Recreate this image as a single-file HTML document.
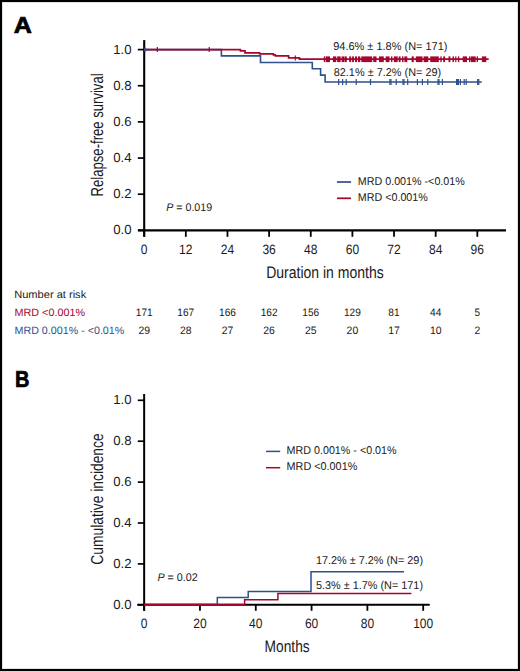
<!DOCTYPE html>
<html><head><meta charset="utf-8"><style>
html,body{margin:0;padding:0;background:#fff;}
body{width:520px;height:671px;overflow:hidden;}
.frame{position:absolute;left:0;top:0;width:516px;height:667px;border:2px solid #000;background:#fff;box-shadow:inset 0 0 0 1px rgba(0,0,0,0.12);}
svg{position:absolute;left:0;top:0;font-family:"Liberation Sans", sans-serif;text-rendering:geometricPrecision;}
</style></head><body>
<div class="frame"></div>
<svg width="520" height="671" viewBox="0 0 520 671">
<text transform="translate(14.9,33.4) scale(1.09,1)" x="-1" y="0" font-size="23.0" font-weight="bold" fill="#000" stroke="#000" stroke-width="0.7">A</text>
<text transform="translate(16.5,386.8) scale(0.87,1)" x="-1.6" y="0" font-size="23.0" font-weight="bold" fill="#000" stroke="#000" stroke-width="0.7">B</text>
<line x1="144.2" y1="40.1" x2="144.2" y2="236.7" stroke="#000" stroke-width="2.1"/>
<line x1="138" y1="230.4" x2="506" y2="230.4" stroke="#000" stroke-width="2.3"/>
<line x1="137.8" y1="230.35" x2="144" y2="230.35" stroke="#000" stroke-width="1.7"/>
<text x="131.5" y="234.3" font-size="13.2" text-anchor="end" fill="#1a1a1a" >0.0</text>
<line x1="137.8" y1="194.2" x2="144" y2="194.2" stroke="#000" stroke-width="1.7"/>
<text x="131.5" y="198.15" font-size="13.2" text-anchor="end" fill="#1a1a1a" >0.2</text>
<line x1="137.8" y1="158.05" x2="144" y2="158.05" stroke="#000" stroke-width="1.7"/>
<text x="131.5" y="162.0" font-size="13.2" text-anchor="end" fill="#1a1a1a" >0.4</text>
<line x1="137.8" y1="121.89999999999998" x2="144" y2="121.89999999999998" stroke="#000" stroke-width="1.7"/>
<text x="131.5" y="125.85" font-size="13.2" text-anchor="end" fill="#1a1a1a" >0.6</text>
<line x1="137.8" y1="85.75" x2="144" y2="85.75" stroke="#000" stroke-width="1.7"/>
<text x="131.5" y="89.7" font-size="13.2" text-anchor="end" fill="#1a1a1a" >0.8</text>
<line x1="137.8" y1="49.599999999999994" x2="144" y2="49.599999999999994" stroke="#000" stroke-width="1.7"/>
<text x="131.5" y="53.55" font-size="13.2" text-anchor="end" fill="#1a1a1a" >1.0</text>
<line x1="144.2" y1="230.4" x2="144.2" y2="236.8" stroke="#000" stroke-width="1.8"/>
<text x="144.2" y="253.9" font-size="13.5" text-anchor="middle" fill="#1a1a1a" textLength="6.7" lengthAdjust="spacingAndGlyphs" >0</text>
<line x1="185.83999999999997" y1="230.4" x2="185.83999999999997" y2="236.8" stroke="#000" stroke-width="1.8"/>
<text x="185.8" y="253.9" font-size="13.5" text-anchor="middle" fill="#1a1a1a" textLength="13.4" lengthAdjust="spacingAndGlyphs" >12</text>
<line x1="227.48" y1="230.4" x2="227.48" y2="236.8" stroke="#000" stroke-width="1.8"/>
<text x="227.5" y="253.9" font-size="13.5" text-anchor="middle" fill="#1a1a1a" textLength="13.4" lengthAdjust="spacingAndGlyphs" >24</text>
<line x1="269.12" y1="230.4" x2="269.12" y2="236.8" stroke="#000" stroke-width="1.8"/>
<text x="269.1" y="253.9" font-size="13.5" text-anchor="middle" fill="#1a1a1a" textLength="13.4" lengthAdjust="spacingAndGlyphs" >36</text>
<line x1="310.76" y1="230.4" x2="310.76" y2="236.8" stroke="#000" stroke-width="1.8"/>
<text x="310.8" y="253.9" font-size="13.5" text-anchor="middle" fill="#1a1a1a" textLength="13.4" lengthAdjust="spacingAndGlyphs" >48</text>
<line x1="352.4" y1="230.4" x2="352.4" y2="236.8" stroke="#000" stroke-width="1.8"/>
<text x="352.4" y="253.9" font-size="13.5" text-anchor="middle" fill="#1a1a1a" textLength="13.4" lengthAdjust="spacingAndGlyphs" >60</text>
<line x1="394.03999999999996" y1="230.4" x2="394.03999999999996" y2="236.8" stroke="#000" stroke-width="1.8"/>
<text x="394.0" y="253.9" font-size="13.5" text-anchor="middle" fill="#1a1a1a" textLength="13.4" lengthAdjust="spacingAndGlyphs" >72</text>
<line x1="435.68" y1="230.4" x2="435.68" y2="236.8" stroke="#000" stroke-width="1.8"/>
<text x="435.7" y="253.9" font-size="13.5" text-anchor="middle" fill="#1a1a1a" textLength="13.4" lengthAdjust="spacingAndGlyphs" >84</text>
<line x1="477.32" y1="230.4" x2="477.32" y2="236.8" stroke="#000" stroke-width="1.8"/>
<text x="477.3" y="253.9" font-size="13.5" text-anchor="middle" fill="#1a1a1a" textLength="13.4" lengthAdjust="spacingAndGlyphs" >96</text>
<polyline points="144,49.6 221.4,49.6 221.4,55.9 260.5,55.9 260.5,62.5 312.3,62.5 312.3,68.8 320.6,68.8 320.6,75.1 325.1,75.1 325.1,82 481.8,82" fill="none" stroke="#2f5089" stroke-width="1.6" stroke-linejoin="miter" stroke-linecap="butt"/>
<polyline points="144,49.6 240.4,49.6 240.4,50.8 245,50.8 245,52.8 259.6,52.8 259.6,53.8 273.4,53.8 273.4,54.8 275.3,54.8 275.3,55.8 288.6,55.8 288.6,57.9 299.4,57.9 299.4,59.2 488.7,59.2" fill="none" stroke="#a6052e" stroke-width="1.7" stroke-linejoin="miter" stroke-linecap="butt"/>
<line x1="338.7" y1="79.0" x2="338.7" y2="85.0" stroke="#2f5089" stroke-width="1.2"/>
<line x1="342.6" y1="79.0" x2="342.6" y2="85.0" stroke="#2f5089" stroke-width="1.2"/>
<line x1="346.2" y1="79.0" x2="346.2" y2="85.0" stroke="#2f5089" stroke-width="1.2"/>
<line x1="356.2" y1="79.0" x2="356.2" y2="85.0" stroke="#2f5089" stroke-width="1.2"/>
<line x1="370.5" y1="79.0" x2="370.5" y2="85.0" stroke="#2f5089" stroke-width="1.2"/>
<line x1="389.9" y1="79.0" x2="389.9" y2="85.0" stroke="#2f5089" stroke-width="1.2"/>
<line x1="391.0" y1="79.0" x2="391.0" y2="85.0" stroke="#2f5089" stroke-width="1.2"/>
<line x1="396.2" y1="79.0" x2="396.2" y2="85.0" stroke="#2f5089" stroke-width="1.2"/>
<line x1="403.0" y1="79.0" x2="403.0" y2="85.0" stroke="#2f5089" stroke-width="1.2"/>
<line x1="404.0" y1="79.0" x2="404.0" y2="85.0" stroke="#2f5089" stroke-width="1.2"/>
<line x1="407.7" y1="79.0" x2="407.7" y2="85.0" stroke="#2f5089" stroke-width="1.2"/>
<line x1="417.4" y1="79.0" x2="417.4" y2="85.0" stroke="#2f5089" stroke-width="1.2"/>
<line x1="422.4" y1="79.0" x2="422.4" y2="85.0" stroke="#2f5089" stroke-width="1.2"/>
<line x1="427.8" y1="79.0" x2="427.8" y2="85.0" stroke="#2f5089" stroke-width="1.2"/>
<line x1="438.0" y1="79.0" x2="438.0" y2="85.0" stroke="#2f5089" stroke-width="1.2"/>
<line x1="439.0" y1="79.0" x2="439.0" y2="85.0" stroke="#2f5089" stroke-width="1.2"/>
<line x1="442.4" y1="79.0" x2="442.4" y2="85.0" stroke="#2f5089" stroke-width="1.2"/>
<line x1="456.6" y1="79.0" x2="456.6" y2="85.0" stroke="#2f5089" stroke-width="1.2"/>
<line x1="457.5" y1="79.0" x2="457.5" y2="85.0" stroke="#2f5089" stroke-width="1.2"/>
<line x1="458.4" y1="79.0" x2="458.4" y2="85.0" stroke="#2f5089" stroke-width="1.2"/>
<line x1="460.4" y1="79.0" x2="460.4" y2="85.0" stroke="#2f5089" stroke-width="1.2"/>
<line x1="464.2" y1="79.0" x2="464.2" y2="85.0" stroke="#2f5089" stroke-width="1.2"/>
<line x1="466.2" y1="79.0" x2="466.2" y2="85.0" stroke="#2f5089" stroke-width="1.2"/>
<line x1="477.6" y1="79.0" x2="477.6" y2="85.0" stroke="#2f5089" stroke-width="1.2"/>
<line x1="478.8" y1="79.0" x2="478.8" y2="85.0" stroke="#2f5089" stroke-width="1.2"/>
<line x1="157.3" y1="47.1" x2="157.3" y2="52.1" stroke="#a6052e" stroke-width="1.2"/>
<line x1="209.2" y1="47.1" x2="209.2" y2="52.1" stroke="#a6052e" stroke-width="1.2"/>
<line x1="295.3" y1="55.4" x2="295.3" y2="60.4" stroke="#a6052e" stroke-width="1.2"/>
<line x1="144" y1="49.6" x2="148.3" y2="49.6" stroke="#2f5089" stroke-width="1.7"/>
<line x1="145" y1="47.3" x2="145" y2="51.9" stroke="#2f5089" stroke-width="1.2"/>
<rect x="323.8" y="56.4" width="1.4" height="5.7" fill="#a6052e"/>
<rect x="325.7" y="56.4" width="4.3" height="5.7" fill="#a6052e"/>
<rect x="332.9" y="56.4" width="3.4" height="5.7" fill="#a6052e"/>
<rect x="337.2" y="56.4" width="3.4" height="5.7" fill="#a6052e"/>
<rect x="341.6" y="56.4" width="2.4" height="5.7" fill="#a6052e"/>
<rect x="344.4" y="56.4" width="2.4" height="5.7" fill="#a6052e"/>
<rect x="349.2" y="56.4" width="2.0" height="5.7" fill="#a6052e"/>
<rect x="352.1" y="56.4" width="1.9" height="5.7" fill="#a6052e"/>
<rect x="355" y="56.4" width="2" height="5.7" fill="#a6052e"/>
<rect x="357.9" y="56.4" width="2.4" height="5.7" fill="#a6052e"/>
<rect x="361.3" y="56.4" width="10.9" height="5.7" fill="#a6052e"/>
<rect x="373.2" y="56.4" width="3.3" height="5.7" fill="#a6052e"/>
<rect x="379" y="56.4" width="4.8" height="5.7" fill="#a6052e"/>
<rect x="385.7" y="56.4" width="3.8" height="5.7" fill="#a6052e"/>
<rect x="391" y="56.4" width="1.4" height="5.7" fill="#a6052e"/>
<rect x="393.8" y="56.4" width="3.9" height="5.7" fill="#a6052e"/>
<rect x="398.7" y="56.4" width="1.9" height="5.7" fill="#a6052e"/>
<rect x="402" y="56.4" width="1.5" height="5.7" fill="#a6052e"/>
<rect x="404.4" y="56.4" width="2.9" height="5.7" fill="#a6052e"/>
<rect x="411.6" y="56.4" width="2.2" height="5.7" fill="#a6052e"/>
<rect x="415.8" y="56.4" width="6.7" height="5.7" fill="#a6052e"/>
<rect x="423.6" y="56.4" width="4.7" height="5.7" fill="#a6052e"/>
<rect x="430.2" y="56.4" width="8.6" height="5.7" fill="#a6052e"/>
<rect x="440.3" y="56.4" width="1.4" height="5.7" fill="#a6052e"/>
<rect x="443.2" y="56.4" width="1.9" height="5.7" fill="#a6052e"/>
<rect x="448.5" y="56.4" width="1.9" height="5.7" fill="#a6052e"/>
<rect x="452.5" y="56.4" width="1.5" height="5.7" fill="#a6052e"/>
<rect x="455.2" y="56.4" width="1.2" height="5.7" fill="#a6052e"/>
<rect x="457.9" y="56.4" width="1.4" height="5.7" fill="#a6052e"/>
<rect x="462.7" y="56.4" width="4.3" height="5.7" fill="#a6052e"/>
<rect x="469" y="56.4" width="1.4" height="5.7" fill="#a6052e"/>
<rect x="470.9" y="56.4" width="4.8" height="5.7" fill="#a6052e"/>
<rect x="476.6" y="56.4" width="1.4" height="5.7" fill="#a6052e"/>
<rect x="481.9" y="56.4" width="4.4" height="5.7" fill="#a6052e"/>
<text x="333.2" y="50.0" font-size="11.3" text-anchor="start" fill="#1a1a1a" textLength="114.3" lengthAdjust="spacingAndGlyphs" >94.6% ± 1.8% (N= 171)</text>
<text x="333.7" y="76.2" font-size="11.3" text-anchor="start" fill="#1a1a1a" textLength="107.5" lengthAdjust="spacingAndGlyphs" >82.1% ± 7.2% (N= 29)</text>
<line x1="337" y1="182" x2="351" y2="182" stroke="#2f5089" stroke-width="1.7"/>
<line x1="337" y1="198.3" x2="351" y2="198.3" stroke="#a6052e" stroke-width="1.7"/>
<text x="357.8" y="185.1" font-size="11.3" text-anchor="start" fill="#1a1a1a" textLength="107" lengthAdjust="spacingAndGlyphs" >MRD 0.001% -&lt;0.01%</text>
<text x="357.8" y="201.4" font-size="11.3" text-anchor="start" fill="#1a1a1a" textLength="70" lengthAdjust="spacingAndGlyphs" >MRD &lt;0.001%</text>
<text x="166.2" y="211.2" font-size="11" fill="#1a1a1a" textLength="46" lengthAdjust="spacingAndGlyphs"><tspan font-style="italic">P</tspan> = 0.019</text>
<text transform="translate(103,196.4) rotate(-90)" x="0" y="0" font-size="17.3" fill="#1a1a1a" textLength="123" lengthAdjust="spacingAndGlyphs">Relapse-free survival</text>
<text x="266.2" y="278" font-size="16.6" text-anchor="start" fill="#1a1a1a" textLength="117.5" lengthAdjust="spacingAndGlyphs" >Duration in months</text>
<text x="14.2" y="298" font-size="10.6" text-anchor="start" fill="#1a1a1a" textLength="72" lengthAdjust="spacingAndGlyphs" >Number at risk</text>
<text x="14.5" y="315.5" font-size="10.6" text-anchor="start" fill="#a6052e" textLength="70.5" lengthAdjust="spacingAndGlyphs" >MRD &lt;0.001%</text>
<text x="14.5" y="333.7" font-size="10.6" text-anchor="start" fill="#2f5089" textLength="109.8" lengthAdjust="spacingAndGlyphs" >MRD 0.001% - &lt;0.01%</text>
<text x="144.2" y="315.8" font-size="10.8" text-anchor="middle" fill="#1a1a1a" textLength="16.9" lengthAdjust="spacingAndGlyphs" >171</text>
<text x="144.2" y="333.5" font-size="10.8" text-anchor="middle" fill="#1a1a1a" textLength="11.6" lengthAdjust="spacingAndGlyphs" >29</text>
<text x="185.8" y="315.8" font-size="10.8" text-anchor="middle" fill="#1a1a1a" textLength="16.9" lengthAdjust="spacingAndGlyphs" >167</text>
<text x="185.8" y="333.5" font-size="10.8" text-anchor="middle" fill="#1a1a1a" textLength="11.6" lengthAdjust="spacingAndGlyphs" >28</text>
<text x="227.5" y="315.8" font-size="10.8" text-anchor="middle" fill="#1a1a1a" textLength="16.9" lengthAdjust="spacingAndGlyphs" >166</text>
<text x="227.5" y="333.5" font-size="10.8" text-anchor="middle" fill="#1a1a1a" textLength="11.6" lengthAdjust="spacingAndGlyphs" >27</text>
<text x="269.1" y="315.8" font-size="10.8" text-anchor="middle" fill="#1a1a1a" textLength="16.9" lengthAdjust="spacingAndGlyphs" >162</text>
<text x="269.1" y="333.5" font-size="10.8" text-anchor="middle" fill="#1a1a1a" textLength="11.6" lengthAdjust="spacingAndGlyphs" >26</text>
<text x="310.8" y="315.8" font-size="10.8" text-anchor="middle" fill="#1a1a1a" textLength="16.9" lengthAdjust="spacingAndGlyphs" >156</text>
<text x="310.8" y="333.5" font-size="10.8" text-anchor="middle" fill="#1a1a1a" textLength="11.6" lengthAdjust="spacingAndGlyphs" >25</text>
<text x="352.4" y="315.8" font-size="10.8" text-anchor="middle" fill="#1a1a1a" textLength="16.9" lengthAdjust="spacingAndGlyphs" >129</text>
<text x="352.4" y="333.5" font-size="10.8" text-anchor="middle" fill="#1a1a1a" textLength="11.6" lengthAdjust="spacingAndGlyphs" >20</text>
<text x="394.0" y="315.8" font-size="10.8" text-anchor="middle" fill="#1a1a1a" textLength="11.3" lengthAdjust="spacingAndGlyphs" >81</text>
<text x="394.0" y="333.5" font-size="10.8" text-anchor="middle" fill="#1a1a1a" textLength="11.6" lengthAdjust="spacingAndGlyphs" >17</text>
<text x="435.7" y="315.8" font-size="10.8" text-anchor="middle" fill="#1a1a1a" textLength="11.3" lengthAdjust="spacingAndGlyphs" >44</text>
<text x="435.7" y="333.5" font-size="10.8" text-anchor="middle" fill="#1a1a1a" textLength="11.6" lengthAdjust="spacingAndGlyphs" >10</text>
<text x="477.3" y="315.8" font-size="10.8" text-anchor="middle" fill="#1a1a1a" textLength="5.6" lengthAdjust="spacingAndGlyphs" >5</text>
<text x="477.3" y="333.5" font-size="10.8" text-anchor="middle" fill="#1a1a1a" textLength="5.8" lengthAdjust="spacingAndGlyphs" >2</text>
<line x1="144.15" y1="394.0" x2="144.15" y2="610.8" stroke="#000" stroke-width="2.0"/>
<line x1="138" y1="604.8" x2="429" y2="604.8" stroke="#000" stroke-width="1.9" stroke-linecap="round"/>
<line x1="137.8" y1="604.8" x2="144" y2="604.8" stroke="#000" stroke-width="1.7"/>
<text x="131.5" y="608.75" font-size="13.2" text-anchor="end" fill="#1a1a1a" >0.0</text>
<line x1="137.8" y1="563.9" x2="144" y2="563.9" stroke="#000" stroke-width="1.7"/>
<text x="131.5" y="567.85" font-size="13.2" text-anchor="end" fill="#1a1a1a" >0.2</text>
<line x1="137.8" y1="523.0" x2="144" y2="523.0" stroke="#000" stroke-width="1.7"/>
<text x="131.5" y="526.95" font-size="13.2" text-anchor="end" fill="#1a1a1a" >0.4</text>
<line x1="137.8" y1="482.0999999999999" x2="144" y2="482.0999999999999" stroke="#000" stroke-width="1.7"/>
<text x="131.5" y="486.05" font-size="13.2" text-anchor="end" fill="#1a1a1a" >0.6</text>
<line x1="137.8" y1="441.19999999999993" x2="144" y2="441.19999999999993" stroke="#000" stroke-width="1.7"/>
<text x="131.5" y="445.15" font-size="13.2" text-anchor="end" fill="#1a1a1a" >0.8</text>
<line x1="137.8" y1="400.29999999999995" x2="144" y2="400.29999999999995" stroke="#000" stroke-width="1.7"/>
<text x="131.5" y="404.25" font-size="13.2" text-anchor="end" fill="#1a1a1a" >1.0</text>
<line x1="144.15" y1="604.8" x2="144.15" y2="610.8" stroke="#000" stroke-width="1.8"/>
<text x="144.2" y="628.1" font-size="13.5" text-anchor="middle" fill="#1a1a1a" textLength="6.7" lengthAdjust="spacingAndGlyphs" >0</text>
<line x1="199.96" y1="604.8" x2="199.96" y2="610.8" stroke="#000" stroke-width="1.8"/>
<text x="200.0" y="628.1" font-size="13.5" text-anchor="middle" fill="#1a1a1a" textLength="13.4" lengthAdjust="spacingAndGlyphs" >20</text>
<line x1="255.77" y1="604.8" x2="255.77" y2="610.8" stroke="#000" stroke-width="1.8"/>
<text x="255.8" y="628.1" font-size="13.5" text-anchor="middle" fill="#1a1a1a" textLength="13.4" lengthAdjust="spacingAndGlyphs" >40</text>
<line x1="311.58000000000004" y1="604.8" x2="311.58000000000004" y2="610.8" stroke="#000" stroke-width="1.8"/>
<text x="311.6" y="628.1" font-size="13.5" text-anchor="middle" fill="#1a1a1a" textLength="13.4" lengthAdjust="spacingAndGlyphs" >60</text>
<line x1="367.39" y1="604.8" x2="367.39" y2="610.8" stroke="#000" stroke-width="1.8"/>
<text x="367.4" y="628.1" font-size="13.5" text-anchor="middle" fill="#1a1a1a" textLength="13.4" lengthAdjust="spacingAndGlyphs" >80</text>
<line x1="423.20000000000005" y1="604.8" x2="423.20000000000005" y2="610.8" stroke="#000" stroke-width="1.8"/>
<text x="423.2" y="628.1" font-size="13.5" text-anchor="middle" fill="#1a1a1a" textLength="20.0" lengthAdjust="spacingAndGlyphs" >100</text>
<polyline points="144,604.4 217.3,604.4 217.3,597.4 248.2,597.4 248.2,591.4 311,591.4 311,571.7 404,571.7" fill="none" stroke="#2f5089" stroke-width="1.5" stroke-linejoin="miter" stroke-linecap="butt"/>
<line x1="143.8" y1="604.8" x2="244.6" y2="604.8" stroke="#a6052e" stroke-width="1.9"/>
<polyline points="244.6,604.8 244.6,599.7 277.9,599.7 277.9,593.6 411.4,593.6" fill="none" stroke="#a6052e" stroke-width="1.5" stroke-linejoin="miter" stroke-linecap="butt"/>
<line x1="266" y1="451.4" x2="280.2" y2="451.4" stroke="#2f5089" stroke-width="1.5"/>
<line x1="266" y1="467.7" x2="280.2" y2="467.7" stroke="#a6052e" stroke-width="1.5"/>
<text x="286.6" y="454.2" font-size="11.3" text-anchor="start" fill="#1a1a1a" textLength="110" lengthAdjust="spacingAndGlyphs" >MRD 0.001% - &lt;0.01%</text>
<text x="286.6" y="470.3" font-size="11.3" text-anchor="start" fill="#1a1a1a" textLength="70.7" lengthAdjust="spacingAndGlyphs" >MRD &lt;0.001%</text>
<text x="157.4" y="580.8" font-size="11" fill="#1a1a1a" textLength="40.3" lengthAdjust="spacingAndGlyphs"><tspan font-style="italic">P</tspan> = 0.02</text>
<text x="316" y="563.8" font-size="11.3" text-anchor="start" fill="#1a1a1a" textLength="107" lengthAdjust="spacingAndGlyphs" >17.2% ± 7.2% (N= 29)</text>
<text x="316" y="589.4" font-size="11.3" text-anchor="start" fill="#1a1a1a" textLength="107" lengthAdjust="spacingAndGlyphs" >5.3% ± 1.7% (N= 171)</text>
<text transform="translate(103,564.7) rotate(-90)" x="0" y="0" font-size="17.3" fill="#1a1a1a" textLength="131.3" lengthAdjust="spacingAndGlyphs">Cumulative incidence</text>
<text x="264.6" y="652.3" font-size="16.6" text-anchor="start" fill="#1a1a1a" textLength="45.1" lengthAdjust="spacingAndGlyphs" >Months</text>
</svg>
</body></html>
